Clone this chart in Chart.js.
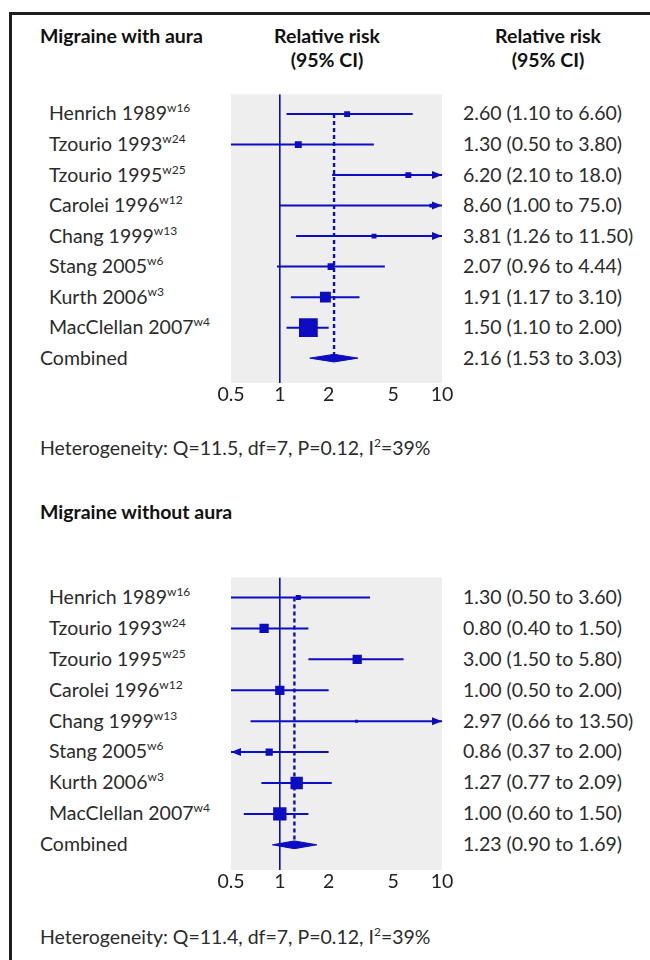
<!DOCTYPE html>
<html>
<head>
<meta charset="utf-8">
<script src="https://cdn.jsdelivr.net/npm/chart.js@4.4.0/dist/chart.umd.min.js"></script>
<style>
html,body{margin:0;padding:0;background:#ffffff;}
body{width:650px;height:960px;position:relative;overflow:hidden;font-family:Lato,"Open Sans",sans-serif;color:#2b2b2b;}
#frame{position:absolute;left:9px;top:12px;width:700px;height:1000px;border:3px solid #1e1e1e;box-sizing:border-box;}
.t{position:absolute;white-space:nowrap;font-size:19.5px;line-height:24px;}
.h{font-weight:bold;color:#111;}
.c{text-align:center;width:200px;}
sup{font-size:12px;line-height:0;vertical-align:0;position:relative;top:-8px;}
.cv{position:absolute;}
</style>
</head>
<body>
<div id="frame"></div>
<div id="texts"></div>
<canvas id="c1" class="cv" width="251" height="342" style="left:211px;top:81px;"></canvas>
<canvas id="c2" class="cv" width="251" height="342" style="left:211px;top:568px;"></canvas>
<script>
// ---------- data ----------
const studies = ['Henrich 1989','Tzourio 1993','Tzourio 1995','Carolei 1996','Chang 1999','Stang 2005','Kurth 2006','MacClellan 2007'];
const refs = ['w16','w24','w25','w12','w13','w6','w3','w4'];
const combinedLabel = 'Combined';
const xTicks = [0.5, 1, 2, 5, 10];

const rrWith = [2.60, 1.30, 6.20, 8.60, 3.81, 2.07, 1.91, 1.50];
const loWith = [1.10, 0.50, 2.10, 1.00, 1.26, 0.96, 1.17, 1.10];
const hiWith = [6.60, 3.80, 18.0, 75.0, 11.50, 4.44, 3.10, 2.00];
const weightWith = [5.2, 7.1, 5.2, 2.3, 3.6, 7.1, 17.5, 52.1];
const combinedWith = [2.16, 1.53, 3.03];
const ciTextWith = ['2.60 (1.10 to 6.60)','1.30 (0.50 to 3.80)','6.20 (2.10 to 18.0)','8.60 (1.00 to 75.0)','3.81 (1.26 to 11.50)','2.07 (0.96 to 4.44)','1.91 (1.17 to 3.10)','1.50 (1.10 to 2.00)','2.16 (1.53 to 3.03)'];
const arrowsWith = ['', '', '>', '>', '>', '', '', ''];

const rrWithout = [1.30, 0.80, 3.00, 1.00, 2.97, 0.86, 1.27, 1.00];
const loWithout = [0.50, 0.40, 1.50, 0.50, 0.66, 0.37, 0.77, 0.60];
const hiWithout = [3.60, 1.50, 5.80, 2.00, 13.50, 2.00, 2.09, 1.50];
const weightWithout = [3.9, 12.7, 12.7, 12.7, 1.4, 7.7, 22.5, 26.4];
const combinedWithout = [1.23, 0.90, 1.69];
const ciTextWithout = ['1.30 (0.50 to 3.60)','0.80 (0.40 to 1.50)','3.00 (1.50 to 5.80)','1.00 (0.50 to 2.00)','2.97 (0.66 to 13.50)','0.86 (0.37 to 2.00)','1.27 (0.77 to 2.09)','1.00 (0.60 to 1.50)','1.23 (0.90 to 1.69)'];
const arrowsWithout = ['', '', '', '', '>', '<', '', ''];

const titles = ['Migraine with aura', 'Migraine without aura'];
const heteroWith = 'Heterogeneity: Q=11.5, df=7, P=0.12, I<sup>2</sup>=39%';
const heteroWithout = 'Heterogeneity: Q=11.4, df=7, P=0.12, I<sup>2</sup>=39%';

// ---------- drawing ----------
const BLUE = '#0c0cc2';
const YMIN = -0.65, YMAX = 8.815;

const bgPlugin = {
  id: 'bg',
  beforeDraw(chart) {
    const a = chart.chartArea, ctx = chart.ctx;
    ctx.save(); ctx.fillStyle = '#eeeeee';
    ctx.fillRect(a.left, a.top, a.right - a.left, a.bottom - a.top);
    ctx.restore();
  }
};
const arrowPlugin = {
  id: 'arrows',
  afterDatasetsDraw(chart, args, opts) {
    const ctx = chart.ctx, xs = chart.scales.x, ys = chart.scales.y;
    ctx.save(); ctx.fillStyle = BLUE;
    (opts.list || []).forEach((a, i) => {
      if (!a) return;
      const y = ys.getPixelForValue(i);
      ctx.beginPath();
      if (a === '>') {
        const x = xs.getPixelForValue(xs.max);
        ctx.moveTo(x, y); ctx.lineTo(x - 10, y - 4); ctx.lineTo(x - 10, y + 4);
      } else {
        const x = xs.getPixelForValue(xs.min);
        ctx.moveTo(x, y); ctx.lineTo(x + 10, y - 4); ctx.lineTo(x + 10, y + 4);
      }
      ctx.closePath(); ctx.fill();
    });
    ctx.restore();
  }
};

function makeForest(id, rr, lo, hi, w, comb, arrows) {
  const n = rr.length;
  const ds = [];
  ds.push({data: [{x: 1, y: YMIN}, {x: 1, y: YMAX}], showLine: true, borderColor: BLUE, borderWidth: 1.6, pointRadius: 0});
  ds.push({data: [{x: comb[0], y: 0}, {x: comb[0], y: n}], showLine: true, borderColor: BLUE, borderWidth: 2.4, borderDash: [4, 3], pointRadius: 0});
  for (let i = 0; i < n; i++) {
    ds.push({data: [{x: lo[i], y: i}, {x: hi[i], y: i}], showLine: true, borderColor: BLUE, borderWidth: 2, pointRadius: 0});
  }
  ds.push({data: rr.map((v, i) => ({x: v, y: i})), showLine: false, pointStyle: 'rect',
    pointRadius: w.map(v => 2.6 * Math.sqrt(v) / Math.SQRT2), backgroundColor: BLUE, borderColor: BLUE, borderWidth: 0});
  const dh = 0.125;
  ds.push({data: [{x: comb[1], y: n}, {x: comb[0], y: n - dh}, {x: comb[2], y: n}, {x: comb[0], y: n + dh}, {x: comb[1], y: n}],
    showLine: true, fill: 'shape', backgroundColor: BLUE, borderColor: BLUE, borderWidth: 1, pointRadius: 0, tension: 0});
  return new Chart(document.getElementById(id), {
    type: 'scatter',
    data: {datasets: ds},
    options: {
      responsive: false, animation: false, events: [],
      layout: {padding: {left: 20, right: 20, top: 0, bottom: 0}},
      plugins: {legend: {display: false}, tooltip: {enabled: false}, arrows: {list: arrows}},
      scales: {
        x: {type: 'logarithmic', min: 0.5, max: 10,
          grid: {display: false, drawTicks: false}, border: {display: false},
          afterBuildTicks: s => { s.ticks = xTicks.map(v => ({value: v})); },
          afterFit: s => { s.height = 40; },
          ticks: {callback: v => String(v), font: {family: 'Lato', size: 19.5}, color: '#222', padding: 0, maxRotation: 0, autoSkip: false}},
        y: {type: 'linear', reverse: true, min: YMIN, max: YMAX, display: false}
      }
    },
    plugins: [bgPlugin, arrowPlugin]
  });
}

const ch1 = makeForest('c1', rrWith, loWith, hiWith, weightWith, combinedWith, arrowsWith);
const ch2 = makeForest('c2', rrWithout, loWithout, hiWithout, weightWithout, combinedWithout, arrowsWithout);

// ---------- text ----------
const T = document.getElementById('texts');
function addText(html, left, cy, cls) {
  const d = document.createElement('div');
  d.className = 't ' + (cls || '');
  d.innerHTML = html;
  d.style.left = left + 'px';
  d.style.top = (cy - 12.6) + 'px';
  T.appendChild(d);
}
function panel(chart, canvasTop, title, titleY, withHeaders, ciText, hetero, heteroY) {
  addText(title, 40, titleY, 'h');
  if (withHeaders) {
    addText('Relative risk', 227, titleY, 'h c');
    addText('(95% CI)', 227, titleY + 24, 'h c');
    addText('Relative risk', 448, titleY, 'h c');
    addText('(95% CI)', 448, titleY + 24, 'h c');
  }
  const ys = chart.scales.y;
  studies.forEach((s, i) => {
    const y = canvasTop + ys.getPixelForValue(i);
    addText(s + '<sup>' + refs[i] + '</sup>', 49, y);
    addText(ciText[i], 463, y);
  });
  const yc = canvasTop + ys.getPixelForValue(studies.length);
  addText(combinedLabel, 40, yc);
  addText(ciText[studies.length], 463, yc);
  addText(hetero, 40, heteroY);
}
panel(ch1, 81, titles[0], 37, true, ciTextWith, heteroWith, 449);
panel(ch2, 568, titles[1], 513, false, ciTextWithout, heteroWithout, 938);
</script>
</body>
</html>
